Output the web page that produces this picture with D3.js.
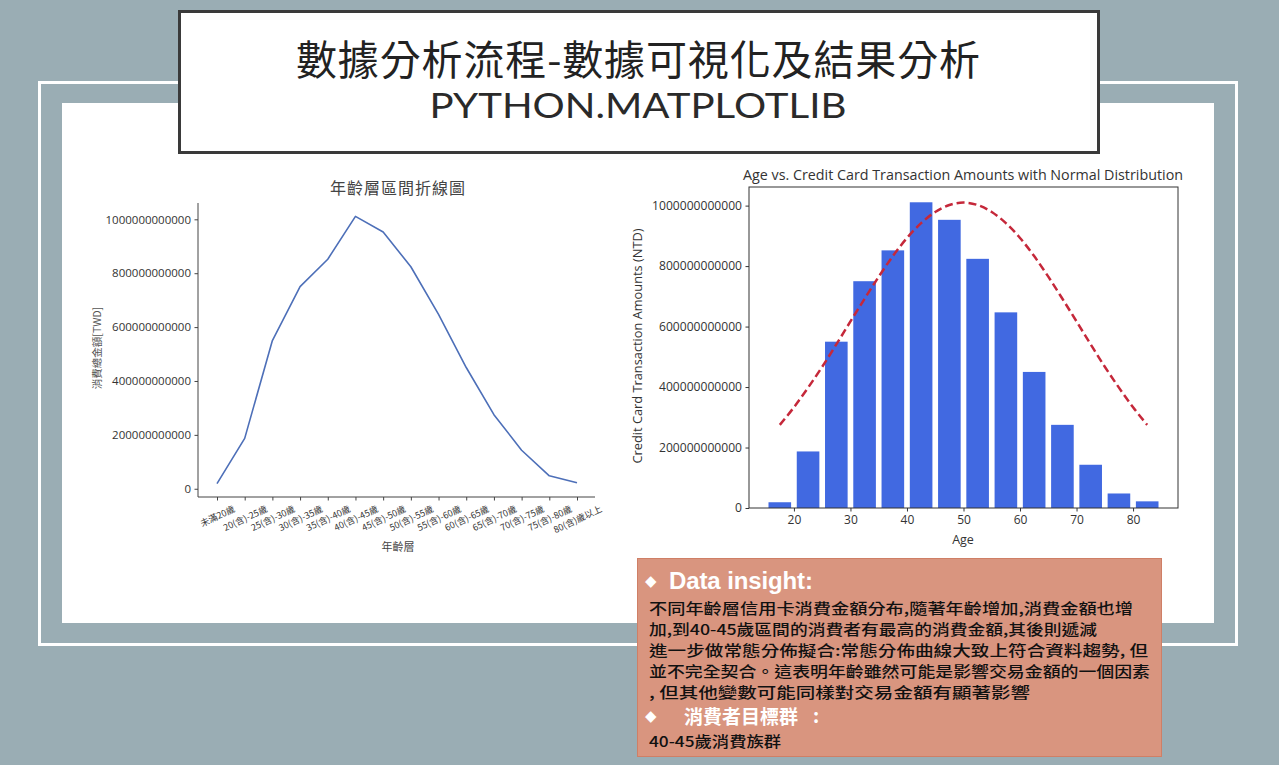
<!DOCTYPE html>
<html><head><meta charset="utf-8">
<script src="https://cdn.jsdelivr.net/npm/d3@7"></script>
<style>
html,body{margin:0;padding:0;background:#9aadb4;}
svg{display:block;}
</style></head>
<body>
<svg id="c" width="1279" height="765"></svg>
<script>
// ---------------- data ----------------
const ageGroups = ["未滿20歲","20(含)-25歲","25(含)-30歲","30(含)-35歲","35(含)-40歲","40(含)-45歲","45(含)-50歲","50(含)-55歲","55(含)-60歲","60(含)-65歲","65(含)-70歲","70(含)-75歲","75(含)-80歲","80(含)歲以上"];
const amounts = [0.019e12,0.187e12,0.55e12,0.75e12,0.852e12,1.011e12,0.953e12,0.824e12,0.647e12,0.45e12,0.275e12,0.143e12,0.048e12,0.022e12];
const ageMid = [17.5,22.5,27.5,32.5,37.5,42.5,47.5,52.5,57.5,62.5,67.5,72.5,77.5,82.5];
const normalAges = [17.5,20,22.5,25,27.5,30,32.5,35,37.5,40,42.5,45,47.5,50,52.5,55,57.5,60,62.5,65,67.5,70,72.5,75,77.5,80,82.5];
const normalVals = [0.275e12,0.333e12,0.398e12,0.467e12,0.541e12,0.617e12,0.692e12,0.765e12,0.833e12,0.893e12,0.942e12,0.979e12,1.002e12,1.01e12,1.002e12,0.979e12,0.942e12,0.893e12,0.833e12,0.765e12,0.692e12,0.617e12,0.541e12,0.467e12,0.398e12,0.333e12,0.275e12];
const yTicks = [0,2e11,4e11,6e11,8e11,1e12];
const ageTicks = [20,30,40,50,60,70,80];
const headerTitle = "數據分析流程-數據可視化及結果分析";
const headerSub = "PYTHON.MATPLOTLIB";
const insightLines = [
 "不同年齡層信用卡消費金額分布,隨著年齡增加,消費金額也增",
 "加,到40-45歲區間的消費者有最高的消費金額,其後則遞減",
 "進一步做常態分佈擬合:常態分佈曲線大致上符合資料趨勢, 但",
 "並不完全契合。這表明年齡雖然可能是影響交易金額的一個因素",
 ", 但其他變數可能同樣對交易金額有顯著影響"
];

// ---------------- frame ----------------
const svg = d3.select("#c");
const CJK = "'Noto Sans CJK TC','Noto Sans CJK SC',sans-serif";
const LAT = "'Open Sans','Noto Sans CJK TC',sans-serif";
svg.append("rect").attr("x",0).attr("y",0).attr("width",1279).attr("height",765).attr("fill","#9aadb4");
svg.append("rect").attr("x",39.5).attr("y",82.5).attr("width",1197).attr("height",562).attr("fill","none").attr("stroke","#fff").attr("stroke-width",3);
svg.append("rect").attr("x",62).attr("y",103).attr("width",1152).attr("height",520).attr("fill","#fff");

// header
svg.append("rect").attr("x",179.5).attr("y",11.5).attr("width",919).attr("height",141).attr("fill","#fff").attr("stroke","#3a3a3a").attr("stroke-width",3);
svg.append("text").attr("x",638).attr("y",75).attr("text-anchor","middle").attr("font-family",CJK).attr("font-size",41).attr("fill","#222")
  .attr("textLength",684).attr("lengthAdjust","spacing").text(headerTitle);
svg.append("text").attr("x",638).attr("y",118).attr("text-anchor","middle").attr("font-family","Lato,'Open Sans',sans-serif").attr("font-size",34).attr("fill","#2a2a2a")
  .attr("textLength",417).attr("lengthAdjust","spacingAndGlyphs").text(headerSub);

// ---------------- left chart ----------------
const L = svg.append("g");
const xL = d3.scaleLinear().domain([-0.65, ageGroups.length - 1 + 0.65]).range([199, 595]);
const yMin = d3.min(amounts), yMax = d3.max(amounts), pad = (yMax - yMin) * 0.05;
const yL = d3.scaleLinear().domain([yMin - pad, yMax + pad]).range([497, 203]);

const axL = L.append("g").attr("transform","translate(198,0)")
  .call(d3.axisLeft(yL).tickValues(yTicks).tickFormat(d3.format("d")).tickSizeOuter(0).tickSize(3.5).tickPadding(3.5));
axL.selectAll("text").attr("font-family",LAT).attr("font-size",11.5).attr("fill","#333");
axL.selectAll("line,path").attr("stroke","#444");
axL.select(".domain").attr("d","M0,203V497");

const axLB = L.append("g").attr("transform","translate(0,497)")
  .call(d3.axisBottom(xL).tickValues(d3.range(ageGroups.length)).tickFormat(i => ageGroups[i]).tickSizeOuter(0).tickSize(3.5));
axLB.selectAll("line,path").attr("stroke","#444");
axLB.select(".domain").attr("d","M198,0H595");
const rot = 25 * Math.PI / 180;
axLB.selectAll(".tick text").each(function(){
  const t = d3.select(this);
  t.attr("font-family",CJK).attr("font-size",9).attr("fill","#333").attr("text-anchor","middle").attr("dy",null).attr("y",0).attr("dominant-baseline","central");
  const len = this.getComputedTextLength();
  const hh = (len*Math.sin(rot) + 9*Math.cos(rot))/2;
  t.attr("transform",`translate(0,${3.5+3.5+hh}) rotate(-25)`);
});

L.append("path").datum(amounts)
  .attr("d", d3.line().x((d,i)=>xL(i)).y(d=>yL(d)))
  .attr("fill","none").attr("stroke","#4d6fb8").attr("stroke-width",1.6).attr("stroke-linejoin","round");

L.append("text").attr("x",398).attr("y",194).attr("text-anchor","middle").attr("font-family",CJK).attr("font-size",16).attr("letter-spacing",1).attr("fill","#444").text("年齡層區間折線圖");
L.append("text").attr("x",398).attr("y",551).attr("text-anchor","middle").attr("font-family",CJK).attr("font-size",11).attr("fill","#444").text("年齡層");
L.append("text").attr("transform","translate(101,348) rotate(-90)").attr("text-anchor","middle").attr("font-family",CJK).attr("font-size",10.5).attr("fill","#555").text("消費總金額[TWD]");

// ---------------- right chart ----------------
const R = svg.append("g");
const xR = d3.scaleLinear().domain([12.05, 87.95]).range([749, 1178]);
const yR = d3.scaleLinear().domain([0, d3.max(amounts.concat(normalVals))*1.05]).range([508, 187]);

R.selectAll("rect.bar").data(amounts).enter().append("rect").attr("class","bar")
  .attr("x",(d,i)=>xR(ageMid[i]-2)).attr("width",(d,i)=>xR(ageMid[i]+2)-xR(ageMid[i]-2))
  .attr("y",d=>yR(d)).attr("height",d=>yR(0)-yR(d)).attr("fill","#4169e1");

R.append("path").datum(normalVals)
  .attr("d", d3.line().curve(d3.curveMonotoneX).x((d,i)=>xR(normalAges[i])).y(d=>yR(d)))
  .attr("fill","none").attr("stroke","#c5283a").attr("stroke-width",2.5).attr("stroke-dasharray","8,4");

const axR = R.append("g").attr("transform","translate(749,0)")
  .call(d3.axisLeft(yR).tickValues(yTicks).tickFormat(d3.format("d")).tickSizeOuter(0).tickSize(3.5).tickPadding(3.5));
axR.selectAll("text").attr("font-family",LAT).attr("font-size",12.1).attr("fill","#333");
axR.selectAll("line").attr("stroke","#333");
axR.select(".domain").remove();
const axRB = R.append("g").attr("transform","translate(0,508)")
  .call(d3.axisBottom(xR).tickValues(ageTicks).tickFormat(d3.format("d")).tickSizeOuter(0).tickSize(3.5).tickPadding(3.5));
axRB.selectAll("text").attr("font-family",LAT).attr("font-size",12).attr("fill","#333");
axRB.selectAll("line").attr("stroke","#333");
axRB.select(".domain").remove();
R.append("rect").attr("x",749).attr("y",187).attr("width",429).attr("height",321).attr("fill","none").attr("stroke","#333").attr("stroke-width",1);

R.append("text").attr("x",963).attr("y",180).attr("text-anchor","middle").attr("font-family",LAT).attr("font-size",14.3).attr("fill","#333").text("Age vs. Credit Card Transaction Amounts with Normal Distribution");
R.append("text").attr("x",963).attr("y",544).attr("text-anchor","middle").attr("font-family",LAT).attr("font-size",12.5).attr("fill","#333").text("Age");
R.append("text").attr("transform","translate(642,346) rotate(-90)").attr("text-anchor","middle").attr("font-family",LAT).attr("font-size",12.8).attr("fill","#333").text("Credit Card Transaction Amounts (NTD)");

// ---------------- insight box ----------------
const B = svg.append("g");
B.append("rect").attr("x",637.5).attr("y",558.5).attr("width",524).attr("height",198).attr("fill","#d9957f").attr("stroke","#cf7f66").attr("stroke-width",1);
B.append("text").attr("x",645).attr("y",586).attr("font-family","'DejaVu Sans',sans-serif").attr("font-size",15).attr("fill","#fff").text("◆");
B.append("text").attr("x",669).attr("y",589).attr("font-family","'Liberation Sans',Arial,sans-serif").attr("font-weight","bold").attr("font-size",24).attr("fill","#fff")
  .attr("textLength",144).attr("lengthAdjust","spacing").text("Data insight:");
const lineW = [484, 448, 499, 501, 381];
const lineY = [614, 635, 656, 677, 698];
insightLines.forEach((s,i)=>{
  B.append("text").attr("x",649).attr("y",lineY[i]).attr("font-family",CJK).attr("font-size",14.5).attr("font-weight",500).attr("fill","#111")
   .attr("textLength",lineW[i]).attr("lengthAdjust","spacingAndGlyphs").text(s);
});
B.append("text").attr("x",645).attr("y",721).attr("font-family","'DejaVu Sans',sans-serif").attr("font-size",15).attr("fill","#fff").text("◆");
B.append("text").attr("x",684).attr("y",724).attr("font-family",CJK).attr("font-weight","bold").attr("font-size",19).attr("fill","#fff").text("消費者目標群");
B.append("text").attr("x",813).attr("y",723).attr("font-family",CJK).attr("font-weight","bold").attr("font-size",19).attr("fill","#fff").text(":");
B.append("text").attr("x",649).attr("y",747).attr("font-family",CJK).attr("font-size",15).attr("font-weight",500).attr("fill","#111")
  .attr("textLength",132).attr("lengthAdjust","spacingAndGlyphs").text("40-45歲消費族群");
</script>
</body></html>
